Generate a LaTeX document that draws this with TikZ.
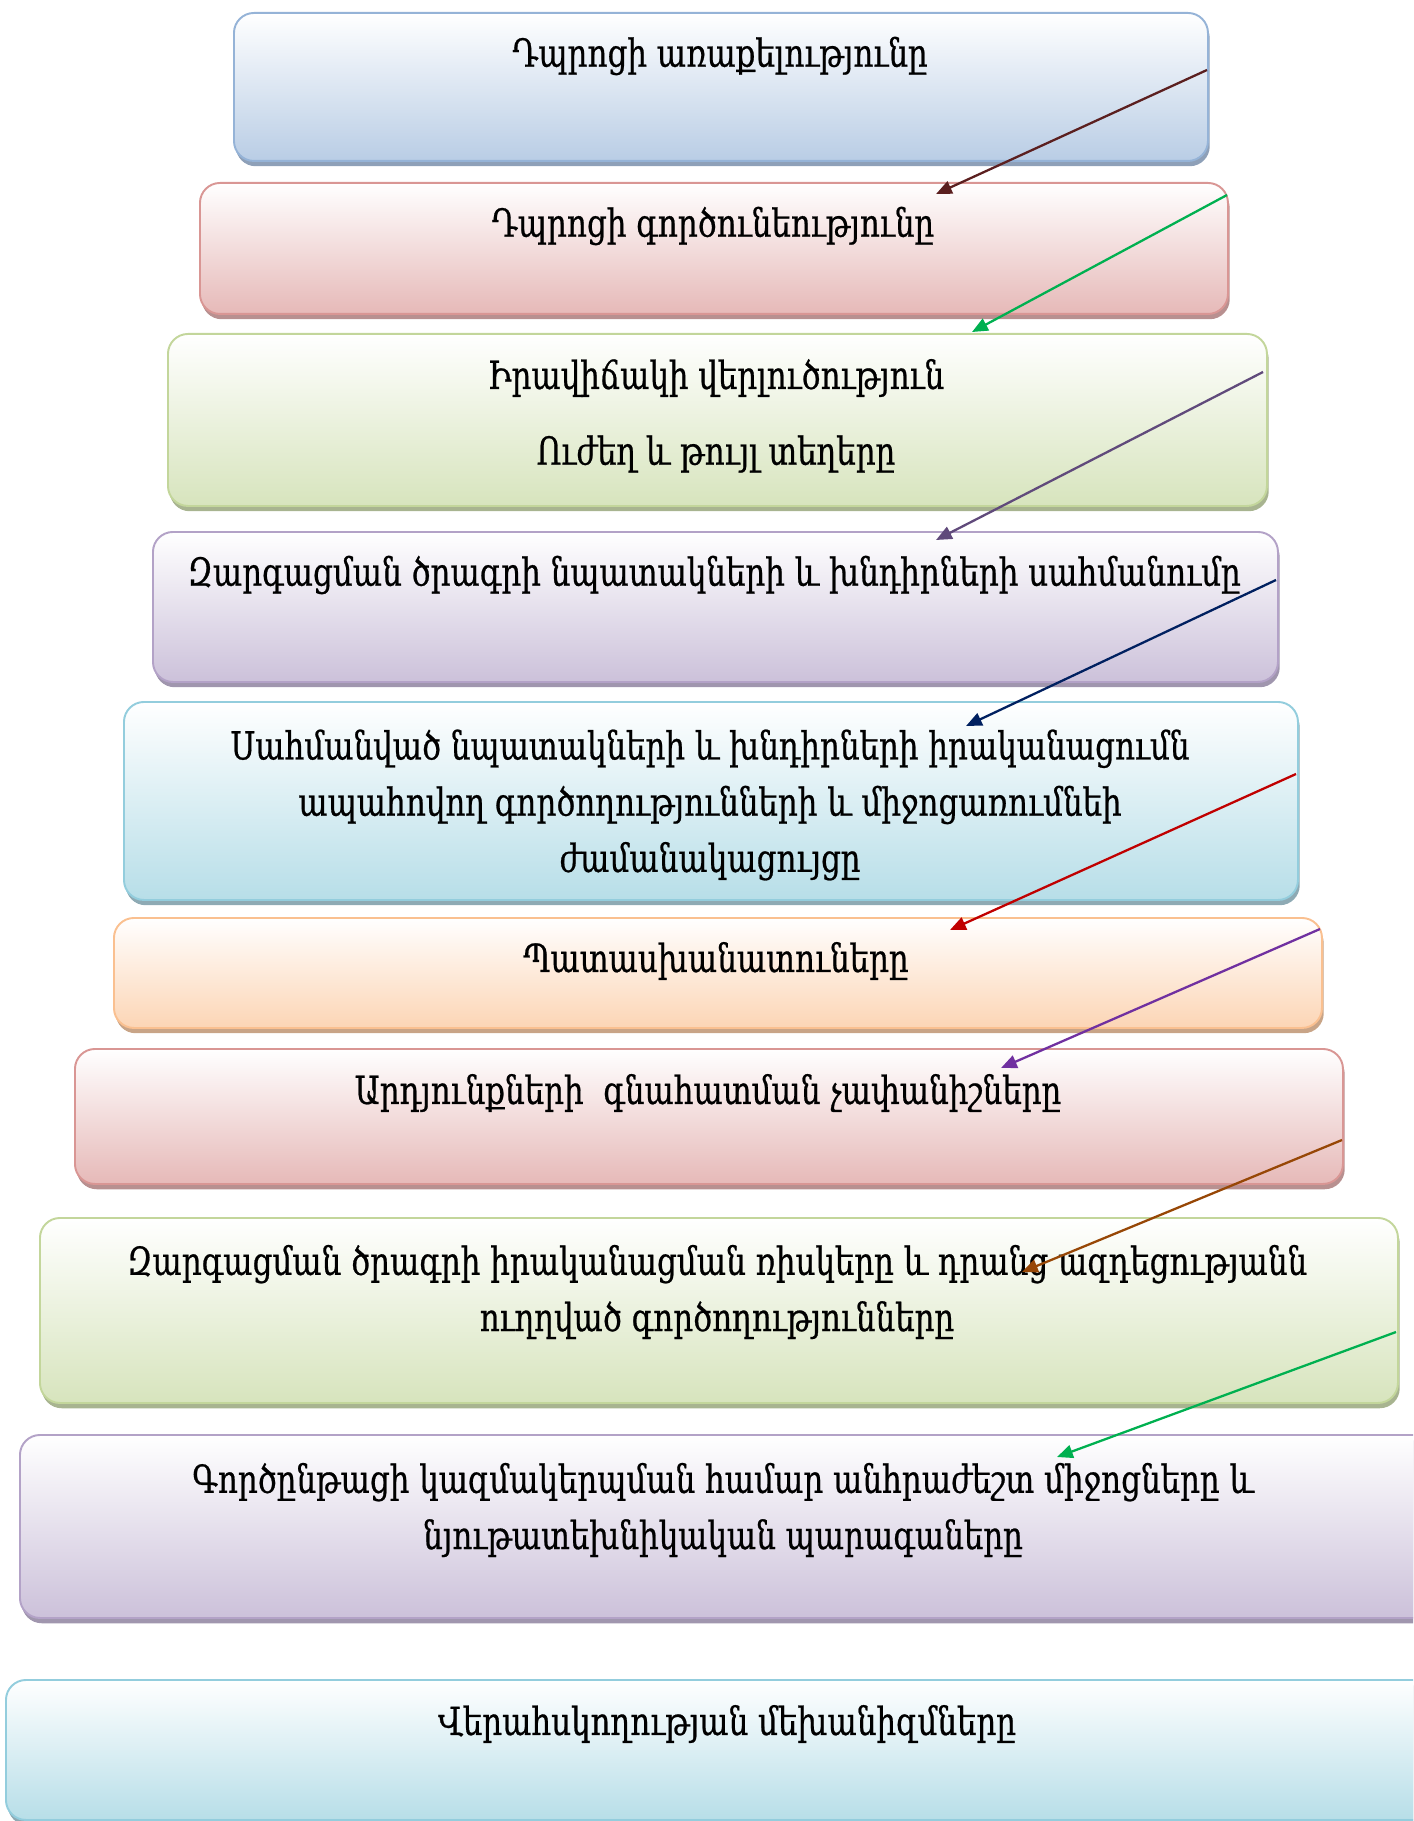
\documentclass[tikz,border=0pt]{standalone}
\usepackage{fontspec}
\usetikzlibrary{shadows,arrows.meta}
\newfontfamily\armfont[FakeStretch=0.8,FakeBold=0.6]{DejaVu Serif}
\definecolor{bdA}{HTML}{95B3D7}\definecolor{bgA}{HTML}{B9CDE5}\definecolor{shA}{HTML}{8EA0B8}
\definecolor{bdB}{HTML}{D99694}\definecolor{bgB}{HTML}{E6B9B8}\definecolor{shB}{HTML}{B89090}
\definecolor{bdC}{HTML}{C3D69B}\definecolor{bgC}{HTML}{D7E4BD}\definecolor{shC}{HTML}{A8B490}
\definecolor{bdD}{HTML}{B3A2C7}\definecolor{bgD}{HTML}{CCC1DA}\definecolor{shD}{HTML}{A096AE}
\definecolor{bdE}{HTML}{93CDDD}\definecolor{bgE}{HTML}{B7DEE8}\definecolor{shE}{HTML}{8EAAB4}
\definecolor{bdF}{HTML}{FAC090}\definecolor{bgF}{HTML}{FCD5B5}\definecolor{shF}{HTML}{C8A487}
\definecolor{arA}{HTML}{5B1F1F}\definecolor{arB}{HTML}{00B050}\definecolor{arC}{HTML}{604A7B}
\definecolor{arD}{HTML}{002060}\definecolor{arE}{HTML}{C00000}\definecolor{arF}{HTML}{7030A0}
\definecolor{arG}{HTML}{974706}
\tikzset{
  pbox/.style n args={3}{draw=#1, line width=1.1pt, rounded corners=0.4cm,
    top color=white, bottom color=#2,
    drop shadow={shadow xshift=1pt, shadow yshift=-3pt, fill=#3, opacity=1},
    inner sep=0pt, anchor=north west},
  ptext/.style={font=\armfont\fontsize{22}{32}\selectfont, align=center, inner sep=0pt, text=black},
  parrow/.style={draw=#1, line width=1.3pt, -{Triangle[length=9pt,width=7.5pt]}}
}
\begin{document}
\begin{tikzpicture}[x=0.02cm,y=-0.02cm]
\useasboundingbox (0,0) rectangle (1413,1821);
\clip (0,0) rectangle (1413,1821);
% boxes
\node[pbox={bdA}{bgA}{shA}, minimum width={974*0.02cm}, minimum height={148*0.02cm}] (b1) at (233,12) {};
\node[pbox={bdB}{bgB}{shB}, minimum width={1028*0.02cm}, minimum height={131*0.02cm}] (b2) at (199,182) {};
\node[pbox={bdC}{bgC}{shC}, minimum width={1099*0.02cm}, minimum height={172*0.02cm}] (b3) at (167,333) {};
\node[pbox={bdD}{bgD}{shD}, minimum width={1125*0.02cm}, minimum height={150*0.02cm}] (b4) at (152,531) {};
\node[pbox={bdE}{bgE}{shE}, minimum width={1174*0.02cm}, minimum height={198*0.02cm}] (b5) at (123,701) {};
\node[pbox={bdF}{bgF}{shF}, minimum width={1208*0.02cm}, minimum height={110*0.02cm}] (b6) at (113,917) {};
\node[pbox={bdB}{bgB}{shB}, minimum width={1268*0.02cm}, minimum height={135*0.02cm}] (b7) at (74,1048) {};
\node[pbox={bdC}{bgC}{shC}, minimum width={1358*0.02cm}, minimum height={185*0.02cm}] (b8) at (39,1217) {};
\node[pbox={bdD}{bgD}{shD}, minimum width={1420*0.02cm}, minimum height={183*0.02cm}] (b9) at (19,1434) {};
\node[pbox={bdE}{bgE}{shE}, minimum width={1440*0.02cm}, minimum height={140*0.02cm}] (b10) at (5,1679) {};
% texts
\node[ptext] (t1) at (720,56) {Դպրոցի առաքելությունը};
\node[ptext] (t2) at (713,226) {Դպրոցի գործունեությունը};
\node[ptext] (t3) at (716,378) {Իրավիճակի վերլուծություն};
\node[ptext] (t3b) at (716,454) {Ուժեղ և թույլ տեղերը};
\node[ptext] (t4) at (714,575) {Զարգացման ծրագրի նպատակների և խնդիրների սահմանումը};
\node[ptext] (t5) at (710,805) {Սահմանված նպատակների և խնդիրների իրականացումն\\ապահովող գործողությունների և միջոցառումնեի\\ժամանակացույցը};
\node[ptext] (t6) at (716,961) {Պատասխանատուները};
\node[ptext] (t7) at (708,1093) {Արդյունքների\ \ գնահատման չափանիշները};
\node[ptext] (t8) at (717,1292) {Զարգացման ծրագրի իրականացման ռիսկերը և դրանց ազդեցությանն\\ուղղված գործողությունները};
\node[ptext] (t9) at (723,1510) {Գործընթացի կազմակերպման համար անհրաժեշտ միջոցները և\\նյութատեխնիկական պարագաները};
\node[ptext] (t10) at (727,1724) {Վերահսկողության մեխանիզմները};
% arrow end points
\coordinate (s1) at (1207,70);  \coordinate (e1) at (936,194);
\coordinate (s2) at (1227,195); \coordinate (e2) at (972,332);
\coordinate (s3) at (1263,372); \coordinate (e3) at (936,540);
\coordinate (s4) at (1276,580); \coordinate (e4) at (966,726);
\coordinate (s5) at (1296,774); \coordinate (e5) at (950,930);
\coordinate (s6) at (1320,929); \coordinate (e6) at (1001,1068);
\coordinate (s7) at (1342,1140);\coordinate (e7) at (1022,1272);
\coordinate (s8) at (1396,1332);\coordinate (e8) at (1057,1457);
\draw[parrow=arA] (s1) -- (e1);
\draw[parrow=arB] (s2) -- (e2);
\draw[parrow=arC] (s3) -- (e3);
\draw[parrow=arD] (s4) -- (e4);
\draw[parrow=arE] (s5) -- (e5);
\draw[parrow=arF] (s6) -- (e6);
\draw[parrow=arG] (s7) -- (e7);
\draw[parrow=arB] (s8) -- (e8);
\end{tikzpicture}
\end{document}
